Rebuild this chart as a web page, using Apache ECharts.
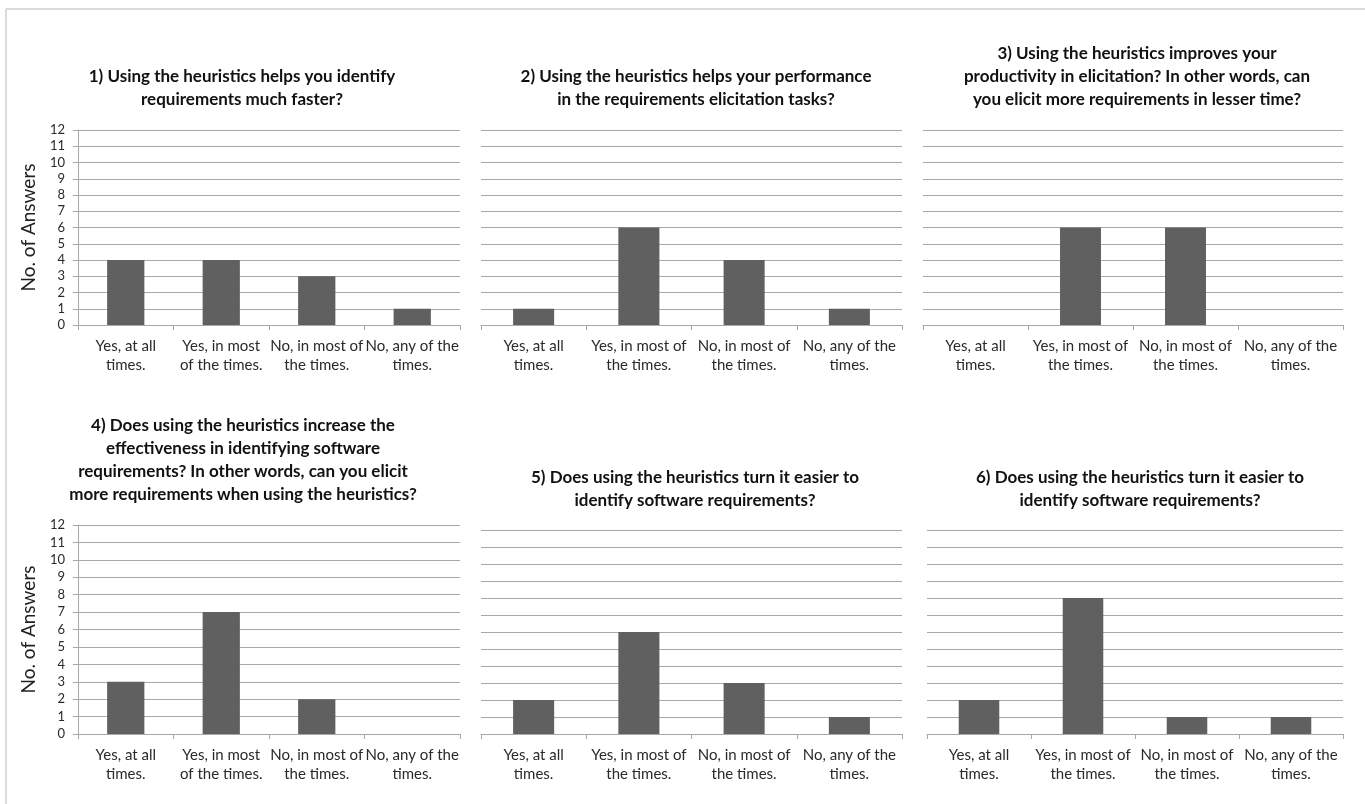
<!DOCTYPE html>
<html>
<head>
<meta charset="utf-8">
<script src="https://cdn.jsdelivr.net/npm/echarts@6/dist/echarts.min.js"></script>
<style>
  html, body { margin: 0; padding: 0; background: #fff; }
  #main { width: 1365px; height: 804px; }
</style>
</head>
<body>
<div id="main"></div>
<script>
// answer categories (two wrappings, as in the original panels)
const catsNarrow = ["Yes, at all\ntimes.", "Yes, in most\nof the times.", "No, in most of\nthe times.", "No, any of the\ntimes."];
const catsWide = ["Yes, at all\ntimes.", "Yes, in most of\nthe times.", "No, in most of\nthe times.", "No, any of the\ntimes."];

const q1 = [4, 4, 3, 1];
const q2 = [1, 6, 4, 1];
const q3 = [0, 6, 6, 0];
const q4 = [3, 7, 2, 0];
const q5 = [2, 6, 3, 1];
const q6 = [2, 8, 1, 1];

const titles = [
  "1) Using the heuristics helps you identify\nrequirements much faster?",
  "2) Using the heuristics helps your performance\nin the requirements elicitation tasks?",
  "3) Using the heuristics improves your\nproductivity in elicitation? In other words, can\nyou elicit more requirements in lesser time?",
  "4) Does using the heuristics increase the\neffectiveness in identifying software\nrequirements? In other words, can you elicit\nmore requirements when using the heuristics?",
  "5) Does using the heuristics turn it easier to\nidentify software requirements?",
  "6) Does using the heuristics turn it easier to\nidentify software requirements?"
];

const yMin = 0, yMax = 12, yStep = 1;
const yTitle = "No. of Answers";

const font = "Lato, 'Open Sans', 'Liberation Sans', sans-serif";
const gridColor = "#a8a8a8";
const barColor = "#606060";

// panel layout: plot area + title anchor
const panels = [
  { data: q1, cats: catsNarrow, left: 78, top: 130, width: 382, height: 195, tx: 237, ty: 60, yLabels: true },
  { data: q2, cats: catsWide, left: 481, top: 130, width: 421, height: 195, tx: 691, ty: 60, yLabels: false },
  { data: q3, cats: catsWide, left: 923, top: 130, width: 420, height: 195, tx: 1132, ty: 37, yLabels: false },
  { data: q4, cats: catsNarrow, left: 78, top: 525, width: 382, height: 209, tx: 238, ty: 409, yLabels: true },
  { data: q5, cats: catsWide, left: 481, top: 530, width: 421, height: 204, tx: 690, ty: 461, yLabels: false },
  { data: q6, cats: catsWide, left: 927, top: 530, width: 416, height: 204, tx: 1135, ty: 461, yLabels: false }
];

const myChart = echarts.init(document.getElementById("main"));

const option = {
  backgroundColor: "#fff",
  animation: false,
  title: panels.map((p, i) => ({
    text: titles[i],
    left: p.tx,
    top: p.ty,
    textAlign: "center",
    textStyle: { fontFamily: font, fontSize: 17, fontWeight: "bold", color: "#111", lineHeight: 23 }
  })),
  grid: panels.map(p => ({ left: p.left, top: p.top, width: p.width, height: p.height })),
  xAxis: panels.map((p, i) => ({
    type: "category",
    gridIndex: i,
    data: p.cats,
    axisLine: { lineStyle: { color: gridColor, width: 1 } },
    axisTick: { show: true, length: 5, lineStyle: { color: gridColor } },
    axisLabel: { interval: 0, margin: 12, fontFamily: font, fontSize: 15, lineHeight: 19, color: "#2a2a2a" }
  })),
  yAxis: panels.map((p, i) => ({
    type: "value",
    gridIndex: i,
    min: yMin,
    max: yMax,
    interval: yStep,
    name: p.yLabels ? yTitle : "",
    nameLocation: "middle",
    nameGap: 40,
    nameTextStyle: { fontFamily: font, fontSize: 19, color: "#222" },
    axisLine: { show: p.yLabels, lineStyle: { color: gridColor } },
    axisTick: { show: p.yLabels, length: 5, lineStyle: { color: gridColor } },
    axisLabel: { show: p.yLabels, margin: 13, fontFamily: font, fontSize: 13, color: "#2a2a2a" },
    splitLine: { lineStyle: { color: gridColor, width: 1 } }
  })),
  series: panels.map((p, i) => ({
    type: "bar",
    xAxisIndex: i,
    yAxisIndex: i,
    data: p.data,
    barWidth: "39%",
    itemStyle: { color: barColor },
    silent: true
  })),
  graphic: [
    // light frame along top and left edge
    { type: "line", shape: { x1: 6, y1: 9, x2: 1365, y2: 9 }, style: { stroke: "#cfcfcf", lineWidth: 1.5 } },
    { type: "line", shape: { x1: 6, y1: 9, x2: 6, y2: 804 }, style: { stroke: "#cfcfcf", lineWidth: 1.5 } }
  ]
};

myChart.setOption(option);

window.addEventListener("resize", function () {
  myChart.resize();
});
</script>
</body>
</html>
